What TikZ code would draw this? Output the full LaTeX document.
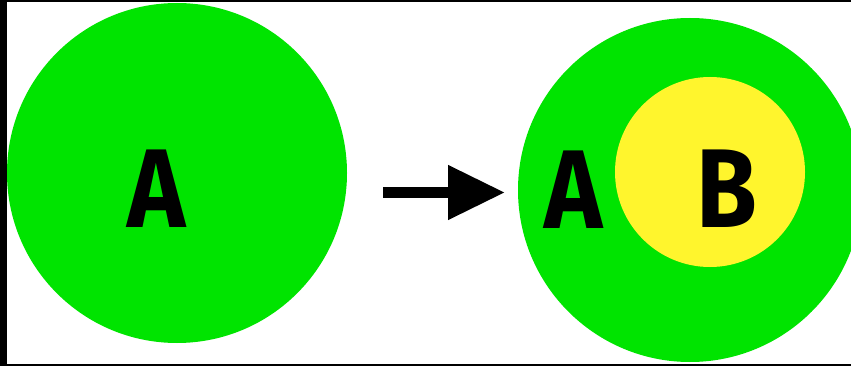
\documentclass[tikz,border=0pt]{standalone}
\usepackage{fontspec}
\setmainfont{Fira Sans}
\usetikzlibrary{arrows.meta}
\definecolor{cgreen}{RGB}{0,228,0}
\definecolor{cyellow}{RGB}{255,245,45}
\tikzset{
  blob/.style={circle, inner sep=0pt, draw=none},
  letter/.style={anchor=base, inner sep=0pt, xscale=0.88, font=\fontsize{112}{112}\selectfont\bfseries, text=black},
}
\begin{document}
\begin{tikzpicture}[x=1pt,y=-1pt]
\useasboundingbox (0,0) rectangle (851,366);
\fill[black] (0,0) rectangle (851,366);
\fill[white] (7,2) rectangle (851,364);
\begin{scope}
\clip (7,2) rectangle (851,364);
\node[blob, fill=cgreen, minimum size=340pt] (left) at (177,173) {};
\node[blob, fill=cgreen, minimum size=344pt] (right) at (690,190) {};
\node[blob, fill=cyellow, minimum size=190pt] (inner) at (710,172) {};
\end{scope}
\node[letter] (la) at (157,228) {A};
\node[letter] (ra) at (574,229) {A};
\node[letter] (rb) at (727,228) {B};
\coordinate (as) at (383,192.5);
\coordinate (ae) at (505,192.5);
\draw[line width=11pt, -{Triangle[length=57pt,width=52pt]}] (as) -- (ae);
\end{tikzpicture}
\end{document}
